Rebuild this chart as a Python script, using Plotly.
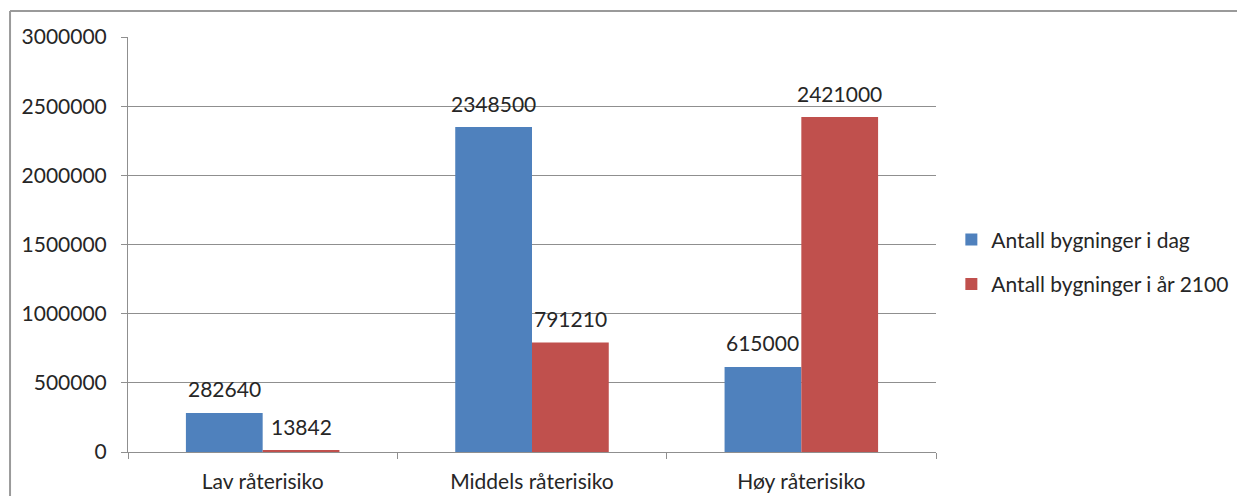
import plotly.graph_objects as go

categories = ["Lav råterisiko", "Middels råterisiko", "Høy råterisiko"]
series_names = ["Antall bygninger i dag", "Antall bygninger i år 2100"]
today_values = [282640, 2348500, 615000]
y2100_values = [13842, 791210, 2421000]
y_tick_values = [0, 500000, 1000000, 1500000, 2000000, 2500000, 3000000]
y_tick_labels = [str(v) for v in y_tick_values]

colors = ["#4F81BD", "#C0504D"]
FONT = "Lato, 'Open Sans', sans-serif"
TXT = "#262626"
GRID = "#8f8f8f"
FS = 21

BARGAP = 0.43
bar_w = (1 - BARGAP) / 2

fig = go.Figure()
for i, (name, vals) in enumerate(zip(series_names, [today_values, y2100_values])):
    fig.add_trace(go.Bar(
        x=categories, y=vals, name=name, marker=dict(color=colors[i], line=dict(width=0)),
        legendgroup=f"g{i}",
    ))

annotations = []
for i, vals in enumerate([today_values, y2100_values]):
    offset = (i - 0.5) * bar_w
    for j, v in enumerate(vals):
        annotations.append(dict(
            x=j + offset, y=v, xref="x", yref="y", text=str(v), showarrow=False,
            yanchor="middle", yshift=24, font=dict(family=FONT, size=FS, color=TXT),
        ))

fig.update_layout(
    width=1229, height=488,
    margin=dict(l=120, r=301, t=29, b=44, autoexpand=False),
    paper_bgcolor="white", plot_bgcolor="white",
    barmode="group", bargap=BARGAP, bargroupgap=0,
    font=dict(family=FONT, size=FS, color=TXT),
    showlegend=True,
    legend=dict(
        x=1.019, y=0.458, xanchor="left", yanchor="middle",
        font=dict(family=FONT, size=FS, color=TXT),
        traceorder="grouped", tracegroupgap=14,
        itemwidth=30, bgcolor="rgba(0,0,0,0)",
    ),
    annotations=annotations,
    xaxis=dict(
        type="category", showgrid=False, showline=True, linecolor=GRID, linewidth=1,
        ticks="outside", tickson="boundaries", ticklen=6, tickcolor=GRID, automargin=False,
        tickfont=dict(family=FONT, size=FS, color=TXT), ticklabelstandoff=11,
    ),
    yaxis=dict(
        range=[0, 3000000], tickvals=y_tick_values, ticktext=y_tick_labels,
        showgrid=True, gridcolor=GRID, gridwidth=1, zeroline=False,
        showline=True, linecolor=GRID, linewidth=1, automargin=False,
        ticks="outside", ticklen=6, tickcolor=GRID,
        tickfont=dict(family=FONT, size=FS, color=TXT), ticklabelstandoff=10,
    ),
    shapes=[
        dict(type="line", xref="paper", yref="paper", x0=-0.146, x1=1.4, y0=1.0627, y1=1.0627,
             line=dict(color="#9a9a9a", width=2)),
        dict(type="line", xref="paper", yref="paper", x0=-0.146, x1=-0.146, y0=1.0627, y1=-0.14,
             line=dict(color="#9a9a9a", width=2)),
    ],
)

fig.write_html("out.html")
